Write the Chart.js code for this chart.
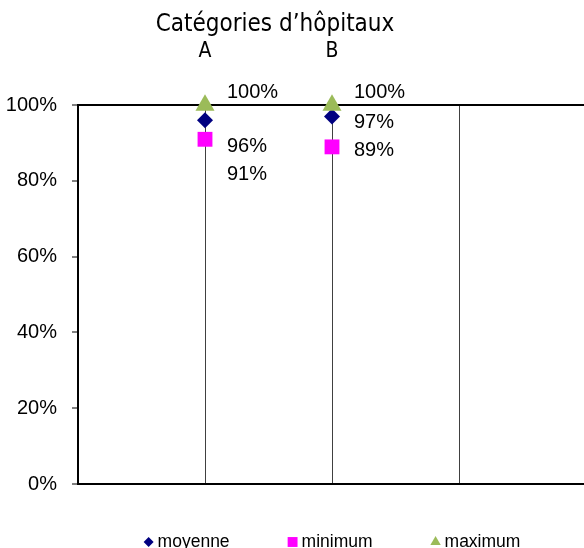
<!DOCTYPE html>
<html>
<head>
<meta charset="utf-8">
<script src="https://cdn.jsdelivr.net/npm/chart.js@4/dist/chart.umd.min.js"></script>
<style>
  html, body { margin: 0; padding: 0; background: #fff; overflow: hidden; }
  #wrap { width: 584px; height: 548px; overflow: hidden; }
</style>
</head>
<body>
<div id="wrap"><canvas id="myChart" width="586" height="548"></canvas></div>
<script>
// data
const categories = ['A', 'B'];
const moyenne = [96, 97];
const minimum = [91, 89];
const maximum = [100, 100];
const yTicks = [0, 20, 40, 60, 80, 100];
const axisTitle = 'Catégories d’hôpitaux';

// the category axis has empty slots on each side (A and B sit on the 2nd and 3rd lines)
const labels = [''].concat(categories, ['', '']);
const pad = arr => [null].concat(arr, [null, null]);

// label offsets (px, vertical) next to each point, per category
const labelDy = {
  moyenne: [26, 6],
  minimum: [35, 4],
  maximum: [-13, -13]
};

const ARIAL = "'Liberation Sans', Arial, sans-serif";
const TAHOMA = "'DejaVu Sans Condensed', 'DejaVu Sans', sans-serif";
Chart.defaults.font.family = ARIAL;
Chart.defaults.color = '#000';

const valueLabels = {
  id: 'valueLabels',
  afterDatasetsDraw(chart) {
    const ctx = chart.ctx;
    ctx.save();
    ctx.font = '20px ' + ARIAL;
    ctx.fillStyle = '#000';
    ctx.textAlign = 'left';
    ctx.textBaseline = 'middle';
    chart.data.datasets.forEach((ds, i) => {
      const meta = chart.getDatasetMeta(i);
      meta.data.forEach((pt, j) => {
        const v = ds.data[j];
        if (v == null) return;
        ctx.fillText(v + '%', pt.x + 22, pt.y + labelDy[ds.label][j - 1]);
      });
    });
    ctx.restore();
  }
};

// axis title sits left of centre in the original, so it is drawn here
const topTitle = {
  id: 'topTitle',
  afterDraw(chart) {
    const ctx = chart.ctx;
    ctx.save();
    ctx.font = '24px ' + TAHOMA;
    ctx.fillStyle = '#000';
    ctx.textAlign = 'center';
    ctx.textBaseline = 'middle';
    ctx.fillText(axisTitle, chart.chartArea.left + 197, 25);
    ctx.restore();
  }
};

// legend drawn by hand so the items can be spread like the original
const bottomLegend = {
  id: 'bottomLegend',
  afterDraw(chart) {
    const ctx = chart.ctx;
    const y = 542;
    ctx.save();
    ctx.font = '17.5px ' + ARIAL;
    ctx.textBaseline = 'middle';
    const items = chart.data.datasets.map(ds => ({ ds: ds, w: ctx.measureText(ds.label).width }));
    const gap = 58;
    const total = items.reduce((s, it) => s + 14 + it.w, 0) + gap * (items.length - 1);
    let x = (chart.chartArea.left + chart.chartArea.right) / 2 - total / 2;
    items.forEach(it => {
      ctx.fillStyle = it.ds.backgroundColor;
      Chart.helpers.drawPoint(ctx, { pointStyle: it.ds.pointStyle, radius: it.ds.legendRadius, rotation: 0, borderWidth: 0 }, x + 5, y);
      ctx.fillStyle = '#000';
      ctx.fillText(it.ds.label, x + 14, y);
      x += 14 + it.w + gap;
    });
    ctx.restore();
  }
};

var ctx = document.getElementById('myChart').getContext('2d');
var myChart = new Chart(ctx, {
  type: 'line',
  data: {
    labels: labels,
    datasets: [{
      label: 'moyenne',
      data: pad(moyenne),
      showLine: false,
      pointStyle: 'rectRot',
      pointRadius: 8,
      pointHoverRadius: 8,
      backgroundColor: '#000080',
      borderColor: '#000080',
      pointBorderWidth: 0,
      legendRadius: 5,
      clip: false,
      order: 2
    }, {
      label: 'minimum',
      data: pad(minimum),
      showLine: false,
      pointStyle: 'rect',
      pointRadius: 10.5,
      pointHoverRadius: 10.5,
      backgroundColor: '#FF00FF',
      borderColor: '#FF00FF',
      pointBorderWidth: 0,
      legendRadius: 7,
      clip: false,
      order: 3
    }, {
      label: 'maximum',
      data: pad(maximum),
      showLine: false,
      pointStyle: 'triangle',
      pointRadius: 11,
      pointHoverRadius: 11,
      backgroundColor: '#9BBB59',
      borderColor: '#9BBB59',
      pointBorderWidth: 0,
      legendRadius: 6,
      clip: false,
      order: 1
    }]
  },
  options: {
    responsive: false,
    animation: false,
    layout: {
      autoPadding: false,
      padding: { left: 6, right: 0, top: 39, bottom: 64 }
    },
    scales: {
      x: {
        position: 'top',
        offset: false,
        afterFit: axis => { axis.paddingLeft = 0; axis.paddingRight = 0; },
        grid: {
          color: '#404040',
          lineWidth: 1,
          drawTicks: true,
          tickLength: 41,
          tickColor: 'transparent'
        },
        border: { color: '#000', width: 2 },
        ticks: {
          autoSkip: false,
          maxRotation: 0,
          padding: 0,
          font: { family: TAHOMA, size: 21 }
        }
      },
      y: {
        min: 0,
        max: 100,
        afterBuildTicks: axis => { axis.ticks = yTicks.map(v => ({ value: v })); },
        afterFit: axis => { axis.width = 72; },
        grid: {
          color: c => c.tick && c.tick.value === 0 ? '#000' : 'transparent',
          lineWidth: 2,
          tickColor: '#000',
          tickWidth: 1,
          tickLength: 6
        },
        border: { color: '#000', width: 2 },
        ticks: {
          padding: 15,
          font: { size: 20 },
          callback: v => v + '%'
        }
      }
    },
    plugins: {
      legend: { display: false },
      tooltip: { enabled: false }
    }
  },
  plugins: [valueLabels, topTitle, bottomLegend]
});
</script>
</body>
</html>
